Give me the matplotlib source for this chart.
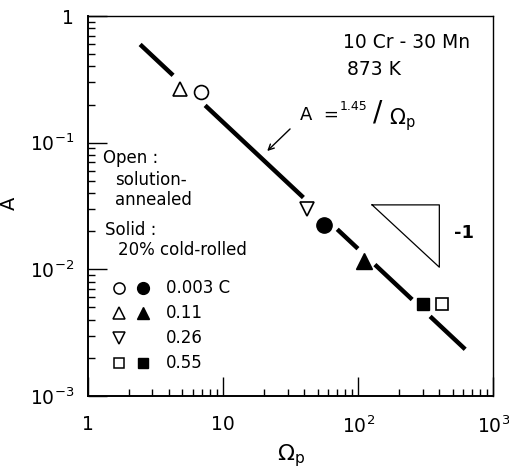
import numpy as np
import matplotlib
matplotlib.use("Agg")
import matplotlib.pyplot as plt
from matplotlib.ticker import LogLocator, NullFormatter, FixedLocator

# data
open_circle = ([6.9], [0.252])
open_tri = ([4.8], [0.266])
open_dtri = ([41.9], [0.030])
open_sq = ([419], [0.0053])
fill_circle = ([56], [0.0222])
fill_tri = ([111], [0.0116])
fill_sq = ([303], [0.0053])
coef = 1.45
line_segments = [(2.43, 4.26), (7.36, 39.3), (70, 99.6), (133, 251), (341, 620)]
legend_rows = ["0.003 C", "0.11", "0.26", "0.55"]

fig = plt.figure(figsize=(5.09, 4.72), dpi=100)
ax = fig.add_axes([0.173, 0.161, 0.796, 0.805])
ax.set_xscale("log")
ax.set_yscale("log")
ax.set_xlim(1, 1e3)
ax.set_ylim(1e-3, 1)

for a, b in line_segments:
    xs = np.logspace(np.log10(a), np.log10(b), 20)
    ax.plot(xs, coef / xs, color="black", lw=3.2, solid_capstyle="butt")

ms = dict(color="black", linestyle="none")
ax.plot(*open_circle, marker="o", ms=10, mfc="white", mew=1.2, **ms)
ax.plot(*open_tri, marker="^", ms=10, mfc="white", mew=1.2, **ms)
ax.plot(*open_dtri, marker="v", ms=10, mfc="white", mew=1.2, **ms)
ax.plot(*open_sq, marker="s", ms=8.5, mfc="white", mew=1.2, **ms)
ax.plot(*fill_circle, marker="o", ms=11, mfc="black", **ms)
ax.plot(*fill_tri, marker="^", ms=11, mfc="black", **ms)
ax.plot(*fill_sq, marker="s", ms=9, mfc="black", **ms)

for s in ax.spines.values():
    s.set_linewidth(1.4)
ax.spines["top"].set_linewidth(1.0)
ax.spines["right"].set_linewidth(1.0)

ax.xaxis.set_major_locator(FixedLocator([1, 10, 100, 1000]))
ax.yaxis.set_major_locator(FixedLocator([1e-3, 1e-2, 1e-1, 1]))
ax.xaxis.set_minor_locator(LogLocator(base=10, subs=np.arange(2, 10)))
ax.yaxis.set_minor_locator(LogLocator(base=10, subs=np.arange(2, 10)))
ax.xaxis.set_minor_formatter(NullFormatter())
ax.yaxis.set_minor_formatter(NullFormatter())
ax.set_xticklabels(["1", "10", r"$10^2$", r"$10^3$"])
ax.set_yticklabels([r"$10^{-3}$", r"$10^{-2}$", r"$10^{-1}$", "1"])
ax.tick_params(which="major", direction="in", length=14, width=1.0, labelsize=13.5,
               top=False, right=False)
ax.tick_params(axis="x", which="major", pad=14)
ax.tick_params(axis="y", which="major", pad=10)
ax.tick_params(which="minor", direction="in", length=5, width=1.0, top=False, right=False)

ax.set_xlabel(r"$\Omega_{\rm p}$", fontsize=16, labelpad=4)
ax.set_ylabel("A", fontsize=14)
ax.yaxis.set_label_coords(-0.17, 0.508)

ax.text(0.63, 0.955, "10 Cr - 30 Mn", va="top", ha="left", fontsize=13.5, transform=ax.transAxes)
ax.text(0.64, 0.885, "873 K", va="top", ha="left", fontsize=13.5, transform=ax.transAxes)

# equation with arrow
ax.annotate("", xy=(20.5, 0.083), xytext=(32.4, 0.133),
            arrowprops=dict(arrowstyle="->", color="black", lw=1.0))
ax.text(0.523, 0.74, "A  =", fontsize=13, transform=ax.transAxes, va="center")
ax.text(0.62, 0.762, "1.45", fontsize=9, transform=ax.transAxes, va="center")
ax.text(0.703, 0.745, "/", fontsize=20, transform=ax.transAxes, va="center")
ax.text(0.742, 0.728, r"$\Omega_{\rm p}$", fontsize=15, transform=ax.transAxes, va="center")

# slope triangle
ax.plot([0.701, 0.867, 0.867, 0.701], [0.503, 0.503, 0.339, 0.503],
        transform=ax.transAxes, color="black", lw=0.9)
ax.text(0.903, 0.429, "-1", fontsize=13, transform=ax.transAxes, va="center", fontweight="bold")

# legend text
lt = dict(transform=ax.transAxes, fontsize=12, va="center")
ax.text(0.037, 0.626, "Open :", **lt)
ax.text(0.067, 0.568, "solution-", **lt)
ax.text(0.067, 0.516, "annealed", **lt)
ax.text(0.042, 0.437, "Solid :", **lt)
ax.text(0.074, 0.384, "20% cold-rolled", **lt)

rows_y = [0.284, 0.218, 0.153, 0.087]
open_m = ["o", "^", "v", "s"]
fill_m = ["o", "^", None, "s"]
for yy, lab, om, fm in zip(rows_y, legend_rows, open_m, fill_m):
    ax.plot([0.077], [yy], marker=om, ms=8 if om != "s" else 7, mfc="white", mec="black",
            mew=1.1, transform=ax.transAxes, linestyle="none")
    if fm:
        ax.plot([0.136], [yy], marker=fm, ms=8.5 if fm != "s" else 7.5, mfc="black", mec="black",
                transform=ax.transAxes, linestyle="none")
    ax.text(0.193, yy, lab, **lt)

fig.savefig("out.png", dpi=100)
